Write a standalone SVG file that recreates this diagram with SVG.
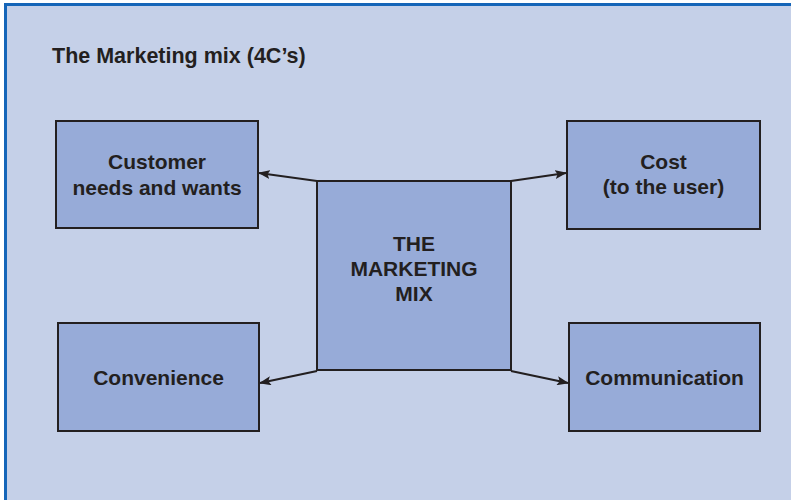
<svg xmlns="http://www.w3.org/2000/svg" width="791" height="500" viewBox="0 0 791 500">
<style>
.box{fill:#97abd8;stroke:#231f20;stroke-width:2}
.t{font-family:"Liberation Sans",Arial,sans-serif;font-weight:bold;font-size:21px;fill:#231f20;text-anchor:middle}
.con{stroke:#231f20;stroke-width:2.2;fill:none;marker-end:url(#ah)}
</style>
<defs>
<marker id="ah" viewBox="0 0 12 9" refX="11" refY="4.5" markerWidth="12" markerHeight="9" markerUnits="userSpaceOnUse" orient="auto">
<path d="M0,0 L12,4.5 L0,9 L2.5,4.5 Z" fill="#231f20"/>
</marker>
</defs>
<rect x="0" y="0" width="791" height="500" fill="#ffffff"/>
<rect x="5.5" y="4.5" width="800" height="520" fill="#c5d0e8" stroke="#1565b8" stroke-width="3"/>
<text x="52" y="63" style="font-family:'Liberation Sans',Arial,sans-serif;font-weight:bold;font-size:21.5px;fill:#231f20">The Marketing mix (4C’s)</text>
<g id="connectors">
<line class="con" x1="317" y1="181" x2="259" y2="173"/>
<line class="con" x1="511" y1="181" x2="566" y2="173"/>
<line class="con" x1="317" y1="371" x2="260" y2="383"/>
<line class="con" x1="511" y1="371" x2="568" y2="383"/>
</g>
<g id="customer">
<rect class="box" x="56" y="121" width="202" height="107"/>
<text class="t" x="157" y="169">Customer</text>
<text class="t" x="157" y="195">needs and wants</text>
</g>
<g id="cost">
<rect class="box" x="567" y="121" width="193" height="108"/>
<text class="t" x="663.5" y="169">Cost</text>
<text class="t" x="663.5" y="194">(to the user)</text>
</g>
<g id="center">
<rect class="box" x="317" y="181" width="194" height="189"/>
<text class="t" x="414" y="251">THE</text>
<text class="t" x="414" y="276">MARKETING</text>
<text class="t" x="414" y="301">MIX</text>
</g>
<g id="convenience">
<rect class="box" x="58" y="323" width="201" height="108"/>
<text class="t" x="158.5" y="385">Convenience</text>
</g>
<g id="communication">
<rect class="box" x="569" y="323" width="191" height="108"/>
<text class="t" x="664.5" y="385">Communication</text>
</g>
</svg>
